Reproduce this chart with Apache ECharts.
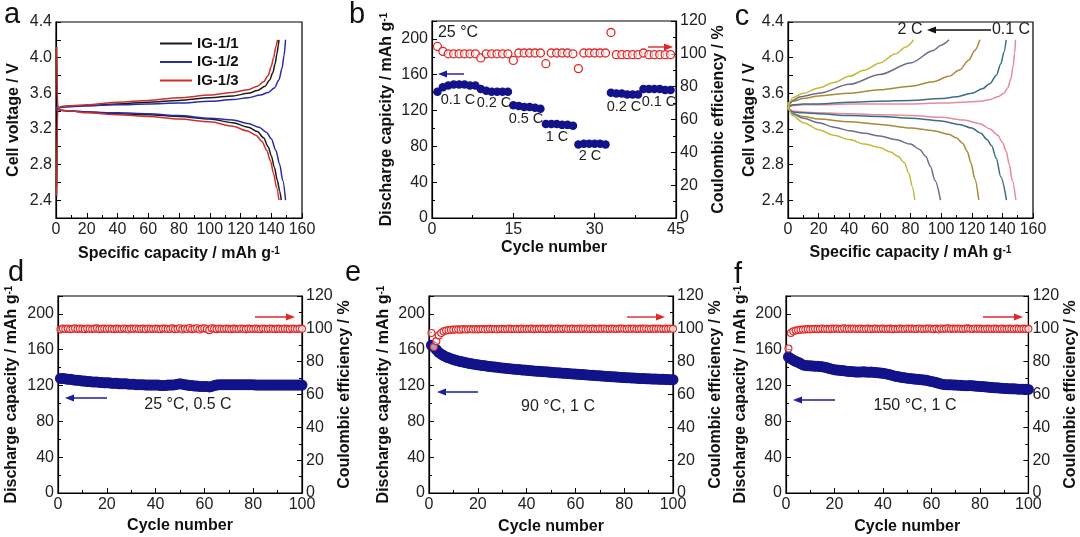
<!DOCTYPE html>
<html><head><meta charset="utf-8">
<script src="https://cdn.jsdelivr.net/npm/echarts@6/dist/echarts.min.js"></script>
<style>html,body{margin:0;padding:0;background:#fff}#c{width:1080px;height:537px}</style>
</head><body><div id="c"></div>
<script>
// ---------- Panel a : charge/discharge curves ----------
const a11ChCap=[0.4,1,3,10,20,40,60,80,100,115,125,131,136,139,141,142.5,143.7,144.6,145];
const a11ChV=[2.55,3.42,3.45,3.46,3.46,3.48,3.5,3.52,3.55,3.57,3.6,3.63,3.68,3.75,3.83,3.93,4.04,4.14,4.2];
const a11DcCap=[0.4,1,3,10,20,40,60,80,100,115,125,131,135,138,140,142,144,145.5,146.5];
const a11DcV=[4.0,3.45,3.41,3.4,3.39,3.37,3.36,3.34,3.31,3.27,3.22,3.17,3.1,3.0,2.9,2.77,2.62,2.5,2.4];
const a12ChCap=[0,1,3,10,20,40,60,80,100,115,125,133,138,142,145,147,148.3,149.3];
const a12ChV=[3.4,3.43,3.44,3.45,3.46,3.47,3.48,3.49,3.51,3.53,3.55,3.58,3.61,3.66,3.75,3.88,4.02,4.2];
const a12DcCap=[0,1,3,10,20,40,60,80,100,115,125,132,137,140,143,145.5,147.5,149.3];
const a12DcV=[3.45,3.42,3.41,3.4,3.39,3.38,3.37,3.35,3.32,3.3,3.26,3.22,3.16,3.09,2.96,2.8,2.62,2.4];
const a13ChCap=[0.5,1,3,10,20,40,60,80,100,115,125,131,135,138,140,141.5,143,144];
const a13ChV=[2.45,3.42,3.45,3.46,3.47,3.5,3.52,3.55,3.58,3.61,3.64,3.68,3.73,3.8,3.9,4.0,4.12,4.2];
const a13DcCap=[0.5,1,3,10,20,40,60,80,100,115,124,130,134,137,139.5,141.5,143.5,145];
const a13DcV=[4.12,3.45,3.41,3.4,3.38,3.36,3.34,3.31,3.28,3.23,3.18,3.13,3.06,2.96,2.84,2.7,2.54,2.4];
const aNames=['IG-1/1','IG-1/2','IG-1/3'];

// ---------- Panel b : rate capability ----------
const bCapacity=[141,146,148,149,149,149,148,148, 144,142,141,141,141,141, 126,125,124,124,123,122,
  105,105,105,104,104,103, 82,83,83,83,83,82, 140,139,139,138,138,138, 144,144,144,144,143,143];
const bCE=[104.5,101.5,100,100,100,100,100,100, 97.5,100,100,100,100,100, 96,100.5,100.5,100.5,100.5,100.5,
  94,100.5,100.5,100.5,100.5,100, 91,100.5,100.5,100.5,100.5,100.5, 113,99.5,99.5,99.5,99.5,99.5,
  100.5,99.5,99.5,99.5,99.5,99.5];
const bRateLabels=['0.1 C','0.2 C','0.5 C','1 C','2 C','0.2 C','0.1 C'];

// ---------- Panel c : rate curves ----------
const cRates=['0.1 C','0.2 C','0.5 C','1 C','2 C'];
const cChCap=[
 [0,1,3,10,20,40,60,80,100,115,125,132,137,141,143.5,145.5,147,148,148.6],
 [0,1,3,10,20,40,60,80,100,110,120,127,132,136,139,141,142.5],
 [0,1,3,10,20,40,60,80,95,105,112,118,122,125.3],
 [0,1,3,8,20,40,60,80,95,100,105.2],
 [0,1,3,10,20,30,40,50,60,70,77,82.1]];
const cChV=[
 [3.42,3.45,3.46,3.47,3.47,3.48,3.48,3.48,3.49,3.5,3.51,3.53,3.56,3.6,3.66,3.76,3.9,4.05,4.2],
 [3.42,3.46,3.47,3.48,3.48,3.5,3.51,3.52,3.54,3.56,3.6,3.65,3.71,3.8,3.93,4.06,4.2],
 [3.42,3.48,3.51,3.54,3.57,3.6,3.64,3.68,3.73,3.79,3.86,3.97,4.08,4.2],
 [3.42,3.49,3.52,3.56,3.6,3.7,3.81,3.94,4.08,4.14,4.2],
 [3.42,3.5,3.55,3.6,3.66,3.72,3.79,3.86,3.94,4.04,4.12,4.2]];
const cDcCap=[
 [0,1,3,10,20,40,60,80,100,115,125,132,137,140,142.5,144.5,146.5,148.8],
 [0,1,3,10,20,40,60,80,100,112,120,126,130,133,136,139,142.7],
 [0,1,3,10,20,40,60,80,95,105,110,114,117,119.5,122,124.6],
 [0,1,3,10,20,30,40,50,60,70,80,86,90,93,96,99.6],
 [0,1,3,10,20,30,40,50,60,67,72,76,79,81,82.8]];
const cDcV=[
 [3.5,3.42,3.4,3.39,3.38,3.37,3.36,3.35,3.33,3.3,3.26,3.2,3.13,3.05,2.95,2.8,2.62,2.4],
 [3.5,3.41,3.39,3.38,3.37,3.35,3.34,3.32,3.29,3.25,3.21,3.15,3.08,3.01,2.87,2.66,2.4],
 [3.5,3.4,3.37,3.34,3.31,3.28,3.25,3.21,3.18,3.14,3.1,3.04,2.95,2.82,2.64,2.4],
 [3.5,3.4,3.37,3.32,3.27,3.22,3.18,3.15,3.12,3.08,3.03,2.97,2.89,2.78,2.62,2.4],
 [3.5,3.4,3.35,3.27,3.19,3.13,3.08,3.03,2.99,2.94,2.89,2.82,2.7,2.56,2.4]];

// ---------- Panel d : 25 °C, 0.5 C ----------
const dCapacity=[128,128,127.5,127,127,126.5,126,126,125.5,125,
 125,124.5,124.5,124,124,124,123.5,123.5,123,123,
 123,122.5,122.5,122.5,122,122,122,122,121.5,121.5,
 121.5,121,121,121,121,120.5,120.5,120.5,120.5,120.5,
 120.5,120,120,120,120.5,120.5,120.5,121,121.5,122,
 121.5,121,120.5,120,120,119.5,119.5,119,119,119,
 119,118.5,119,120,120.5,121,121,121,121,121,
 121,121,121,121,121,121,121,121,121,121,
 120.5,120.5,120.5,120.5,120.5,120.5,120.5,120.5,120.5,120.5,
 120.5,120.5,120.5,120.5,120.5,120.5,120.5,120.5,120.5,120.5];
const dCE=[99.6,100.1,99.9,100.2,99.8,100.0,100.3,99.9,100.1,100.0,
 99.8,100.2,100.0,99.9,100.1,100.3,99.8,100.0,100.1,99.9,
 100.2,100.0,99.8,100.1,100.0,99.9,100.2,100.0,99.7,100.1,
 100.0,100.2,99.9,100.0,100.1,99.8,100.2,100.0,99.9,100.1,
 100.0,99.8,100.2,100.1,99.9,100.0,100.3,99.8,100.0,100.4,
 99.7,100.2,99.9,100.5,99.8,100.1,100.4,99.6,100.2,100.3,
 99.9,99.2,100.4,100.1,99.8,100.2,100.0,99.9,100.1,100.0,
 99.8,100.1,100.0,99.9,100.2,100.0,99.8,100.1,100.0,99.9,
 100.1,100.0,99.8,100.2,100.0,99.9,100.1,100.0,99.8,100.1,
 100.0,99.9,100.1,100.0,99.8,100.2,100.0,99.9,100.1,100.0];

// ---------- Panel e : 90 °C, 1 C ----------
const eCapacity=[165,163,160,157,155,153.5,152,151,150,149,
 148.2,147.5,146.8,146.2,145.6,145,144.5,144,143.6,143.2,
 142.8,142.4,142,141.6,141.2,140.9,140.6,140.3,140,139.7,
 139.4,139.1,138.8,138.5,138.3,138,137.8,137.5,137.3,137,
 136.8,136.5,136.3,136.1,135.9,135.7,135.5,135.3,135,134.8,
 134.6,134.4,134.2,134,133.8,133.6,133.4,133.2,133,132.8,
 132.6,132.4,132.2,132,131.8,131.6,131.4,131.2,131,130.8,
 130.6,130.4,130.2,130,129.8,129.7,129.5,129.3,129.1,129,
 128.8,128.6,128.5,128.3,128.2,128,127.9,127.8,127.6,127.5,
 127.4,127.3,127.2,127.1,127,126.9,126.8,126.7,126.6,126.5];
const eCE=[97.5,89,92.5,96,97.5,98.5,99,99.2,99.4,99.5,
 99.6,99.7,99.5,99.8,99.6,99.7,99.9,99.6,99.8,99.7,
 99.8,99.9,99.7,99.8,100.0,99.8,99.9,99.7,99.9,100.0,
 99.8,99.9,100.1,99.8,99.9,100.0,99.8,100.1,99.9,100.0,
 99.9,100.1,99.8,100.0,99.9,100.1,100.0,99.8,100.0,100.1,
 99.9,100.0,100.1,99.9,100.0,100.2,99.9,100.0,100.1,99.9,
 100.0,100.1,99.9,100.2,100.0,99.9,100.1,100.0,99.9,100.1,
 100.0,100.2,99.9,100.0,100.1,100.0,99.9,100.1,100.2,100.0,
 99.9,100.1,100.0,100.2,99.9,100.0,100.1,100.0,100.2,99.9,
 100.0,100.1,100.0,100.2,100.0,99.9,100.1,100.0,100.2,100.0];

// ---------- Panel f : 150 °C, 1 C ----------
const fCapacity=[152,150,148.5,147,146,144.5,143,142.5,142.2,142,
 141.8,141.6,141.5,141.3,141,140.5,139.8,139,138.3,137.7,
 137.3,137,136.7,136.4,136,135.8,135.6,135.3,135.1,135,
 135.2,135.3,135.1,134.9,135,134.8,134.5,134.3,134,133.6,
 133.2,132.7,132,131.3,130.5,130,129.5,129,128.6,128.2,
 128,127.7,127.3,127,126.8,126.5,126.2,125.8,125.2,124.6,
 124,123.3,122.5,121.8,121.3,121,120.9,120.8,120.7,120.6,
 120.4,120.2,120,119.8,119.8,120,119.7,119.4,119.2,119,
 118.8,118.6,118.3,118,117.8,117.6,117.4,117.2,117,116.8,
 116.6,116.5,116.4,116.3,116.2,116,116,115.9,115.8,115.7];
const fCE=[88,97.5,98.5,99,99.3,99.5,99.6,99.7,99.8,99.7,
 99.9,100.0,99.8,99.9,100.1,99.9,100.0,99.8,100.1,100.0,
 100.2,99.9,100.0,100.3,99.9,100.1,100.0,100.2,99.9,100.0,
 100.1,99.9,100.0,100.1,99.8,100.0,100.1,99.9,100.0,100.1,
 99.9,100.0,100.1,99.8,100.0,99.9,100.1,100.0,99.9,100.2,
 100.0,100.1,99.9,100.0,100.2,100.0,99.9,100.1,100.2,100.0,
 99.8,100.1,99.7,100.2,100.0,100.1,100.3,99.9,100.1,100.0,
 100.2,100.0,99.9,100.1,100.3,100.0,99.9,100.2,100.0,100.1,
 100.0,99.9,100.1,100.0,99.9,100.1,100.0,99.9,100.1,100.0,
 99.9,100.1,100.0,99.9,100.1,100.0,99.9,100.1,100.0,100.0];

// ---------- helpers ----------
const FONT='"Liberation Sans", Arial, sans-serif';
const zip=(xs,ys)=>xs.map((x,i)=>[x,ys[i]]);
const byCycle=ys=>ys.map((y,i)=>[i+1,y]);
const NAVY='#12128a', RED='#e02828';

const nameStyle={fontFamily:FONT,fontSize:16,fontWeight:'bold',color:'#111',
  rich:{sup:{fontFamily:FONT,fontSize:10,fontWeight:'bold',color:'#111',verticalAlign:'top',lineHeight:14}}};
function axisBase(o){
  return Object.assign({type:'value',nameLocation:'middle',nameTextStyle:nameStyle,
    axisLine:{show:true,onZero:false,lineStyle:{color:'#000',width:1.2}},
    axisTick:{show:true,inside:true,length:5,lineStyle:{color:'#000',width:1}},
    minorTick:{show:true,splitNumber:2,length:3,lineStyle:{color:'#000',width:1}},
    axisLabel:{fontFamily:FONT,fontSize:16,color:'#222',margin:4},
    splitLine:{show:false},minorSplitLine:{show:false}},o);
}
const grids=[
 {left:56,top:22,width:246,height:196},
 {left:432,top:21,width:244,height:197},
 {left:788,top:22,width:245,height:196},
 {left:58,top:296,width:244,height:197},
 {left:429,top:296,width:244,height:197},
 {left:786,top:296,width:245,height:197}
].map(g=>Object.assign(g,{show:true,borderColor:'#000',borderWidth:1.2,containLabel:false}));

const voltLabel=v=>{const k=Math.round(v*10);return k%4===0?(k/10).toFixed(1):'';};
const capName='Specific capacity / mAh g{sup|-1}';
const xAxes=[
 axisBase({gridIndex:0,min:0,max:160,interval:20,name:capName,nameGap:28}),
 axisBase({gridIndex:1,min:0,max:45,interval:15,name:'Cycle number',nameGap:22}),
 axisBase({gridIndex:2,min:0,max:160,interval:20,name:capName,nameGap:27}),
 axisBase({gridIndex:3,min:0,max:100,interval:20,name:'Cycle number',nameGap:25}),
 axisBase({gridIndex:4,min:0,max:100,interval:20,name:'Cycle number',nameGap:26}),
 axisBase({gridIndex:5,min:0,max:100,interval:20,name:'Cycle number',nameGap:26})
];
function voltAxis(g,gap){return axisBase({gridIndex:g,min:2.2,max:4.4,interval:0.2,name:'Cell voltage / V',nameGap:gap,nameRotate:90,
  minorTick:{show:false},axisLabel:{fontFamily:FONT,fontSize:16,color:'#222',margin:4,formatter:voltLabel}});}
function capAxis(g,gap,nm){return axisBase({gridIndex:g,min:0,max:220,interval:40,name:nm||'Discharge capacity / mAh g{sup|-1}',nameGap:gap,nameRotate:90,
  axisLabel:{fontFamily:FONT,fontSize:16,color:'#222',margin:4,showMaxLabel:false}});}
function ceAxis(g,gap){return axisBase({gridIndex:g,position:'right',min:0,max:120,interval:20,name:'Coulombic efficiency / %',nameGap:gap,nameRotate:90});}
const yAxes=[
 voltAxis(0,34),
 capAxis(1,37,'Discharge capicity / mAh g{sup|-1}'), ceAxis(1,33),
 voltAxis(2,30),
 capAxis(3,38), ceAxis(3,31),
 capAxis(4,37), ceAxis(4,32),
 capAxis(5,37), ceAxis(5,31)
];

const aColors=['#1b1b1b','#2b2ba8','#cf2f2f'];
const aData=[[a11ChCap,a11ChV,a11DcCap,a11DcV],[a12ChCap,a12ChV,a12DcCap,a12DcV],[a13ChCap,a13ChV,a13DcCap,a13DcV]];
const series=[];
aData.forEach((d,i)=>{
  [[d[0],d[1]],[d[2],d[3]]].forEach(p=>series.push({type:'line',name:aNames[i],xAxisIndex:0,yAxisIndex:0,
    data:zip(p[0],p[1]),symbol:'none',smooth:0.3,smoothMonotone:'x',lineStyle:{color:aColors[i],width:1.5},itemStyle:{color:aColors[i]},z:3+i}));
});
const cColors=['#e98a9b','#3c6d87','#a98a36','#6d6d8e','#c4ba3e'];
cRates.forEach((r,i)=>{
  [[cChCap[i],cChV[i]],[cDcCap[i],cDcV[i]]].forEach(p=>series.push({type:'line',name:'c '+r,xAxisIndex:2,yAxisIndex:3,
    data:zip(p[0],p[1]),symbol:'none',smooth:0.3,smoothMonotone:'x',lineStyle:{color:cColors[i],width:1.5}}));
});
function capSeries(xi,yi,data,size){return {type:'scatter',xAxisIndex:xi,yAxisIndex:yi,data:byCycle(data),symbol:'circle',symbolSize:size,
  itemStyle:{color:NAVY,opacity:1},z:2};}
function ceSeries(xi,yi,data,size,bw){return {type:'scatter',xAxisIndex:xi,yAxisIndex:yi,data:byCycle(data),symbol:'circle',symbolSize:size,
  itemStyle:{color:'rgba(255,255,255,0.6)',borderColor:RED,borderWidth:bw,opacity:1},z:3};}
series.push(capSeries(1,1,bCapacity,8.5), ceSeries(1,2,bCE,8,1.3));
series.push(capSeries(3,4,dCapacity,11), ceSeries(3,5,dCE,7,1.1));
series.push(capSeries(4,6,eCapacity,11), ceSeries(4,7,eCE,7,1.1));
series.push(capSeries(5,8,fCapacity,11), ceSeries(5,9,fCE,7,1.1));

// ---------- annotations ----------
const g=[];
function txt(x,y,s,size,align){g.push({type:'text',x,y,z:50,style:{text:s,fontFamily:FONT,fontSize:size,fill:'#222',align:align||'center',verticalAlign:'middle'}});}
function arrow(x1,x2,y,color){
  const dir=x2>x1?1:-1;
  g.push({type:'line',z:50,shape:{x1,y1:y,x2:x2-dir*7,y2:y},style:{stroke:color,lineWidth:1.4}});
  g.push({type:'polygon',z:50,shape:{points:[[x2,y],[x2-dir*9,y-3.5],[x2-dir*9,y+3.5]]},style:{fill:color}});
}
[['a',12,15],['b',357,15],['c',742,17],['d',16,273],['e',353,273],['f',738,275]].forEach(l=>
  g.push({type:'text',x:l[1],y:l[2],z:50,style:{text:l[0],fontFamily:FONT,fontSize:29,fill:'#111',align:'center',verticalAlign:'middle'}}));
// panel b
txt(458,33,'25 °C',16);
const bLabelPos=[[458,100],[494,103],[526,119],[557,137],[590,156],[624,107],[659,102]];
bRateLabels.forEach((s,i)=>txt(bLabelPos[i][0],bLabelPos[i][1],s,14.5));
arrow(464,438,74,'#1c1ca0');
arrow(648,673,47,RED);
// panel c
txt(910,30,'2 C',16); txt(1011,30,'0.1 C',16);
arrow(991,927,30,'#111');
// panels d,e,f
txt(188,405,'25 °C, 0.5 C',16); arrow(107,65,398,'#1c1ca0'); arrow(255,295,317,RED);
txt(558,407,'90 °C, 1 C',16); arrow(478,437,392,'#1c1ca0'); arrow(627,665,317,RED);
txt(915,406,'150 °C, 1 C',16); arrow(835,793,400,'#1c1ca0'); arrow(983,1023,317,RED);

const chart=echarts.init(document.getElementById('c'),null,{renderer:'canvas'});
chart.setOption({
  animation:false,backgroundColor:'#fff',textStyle:{fontFamily:FONT},
  grid:grids,xAxis:xAxes,yAxis:yAxes,series,graphic:g,
  legend:{data:aNames.map(n=>({name:n,icon:'rect'})),left:160,top:36,orient:'vertical',itemWidth:32,itemHeight:2,itemGap:3.5,
    textStyle:{fontFamily:FONT,fontSize:15,fontWeight:'bold',color:'#111',lineHeight:15},selectedMode:false,padding:0}
});
</script></body></html>
